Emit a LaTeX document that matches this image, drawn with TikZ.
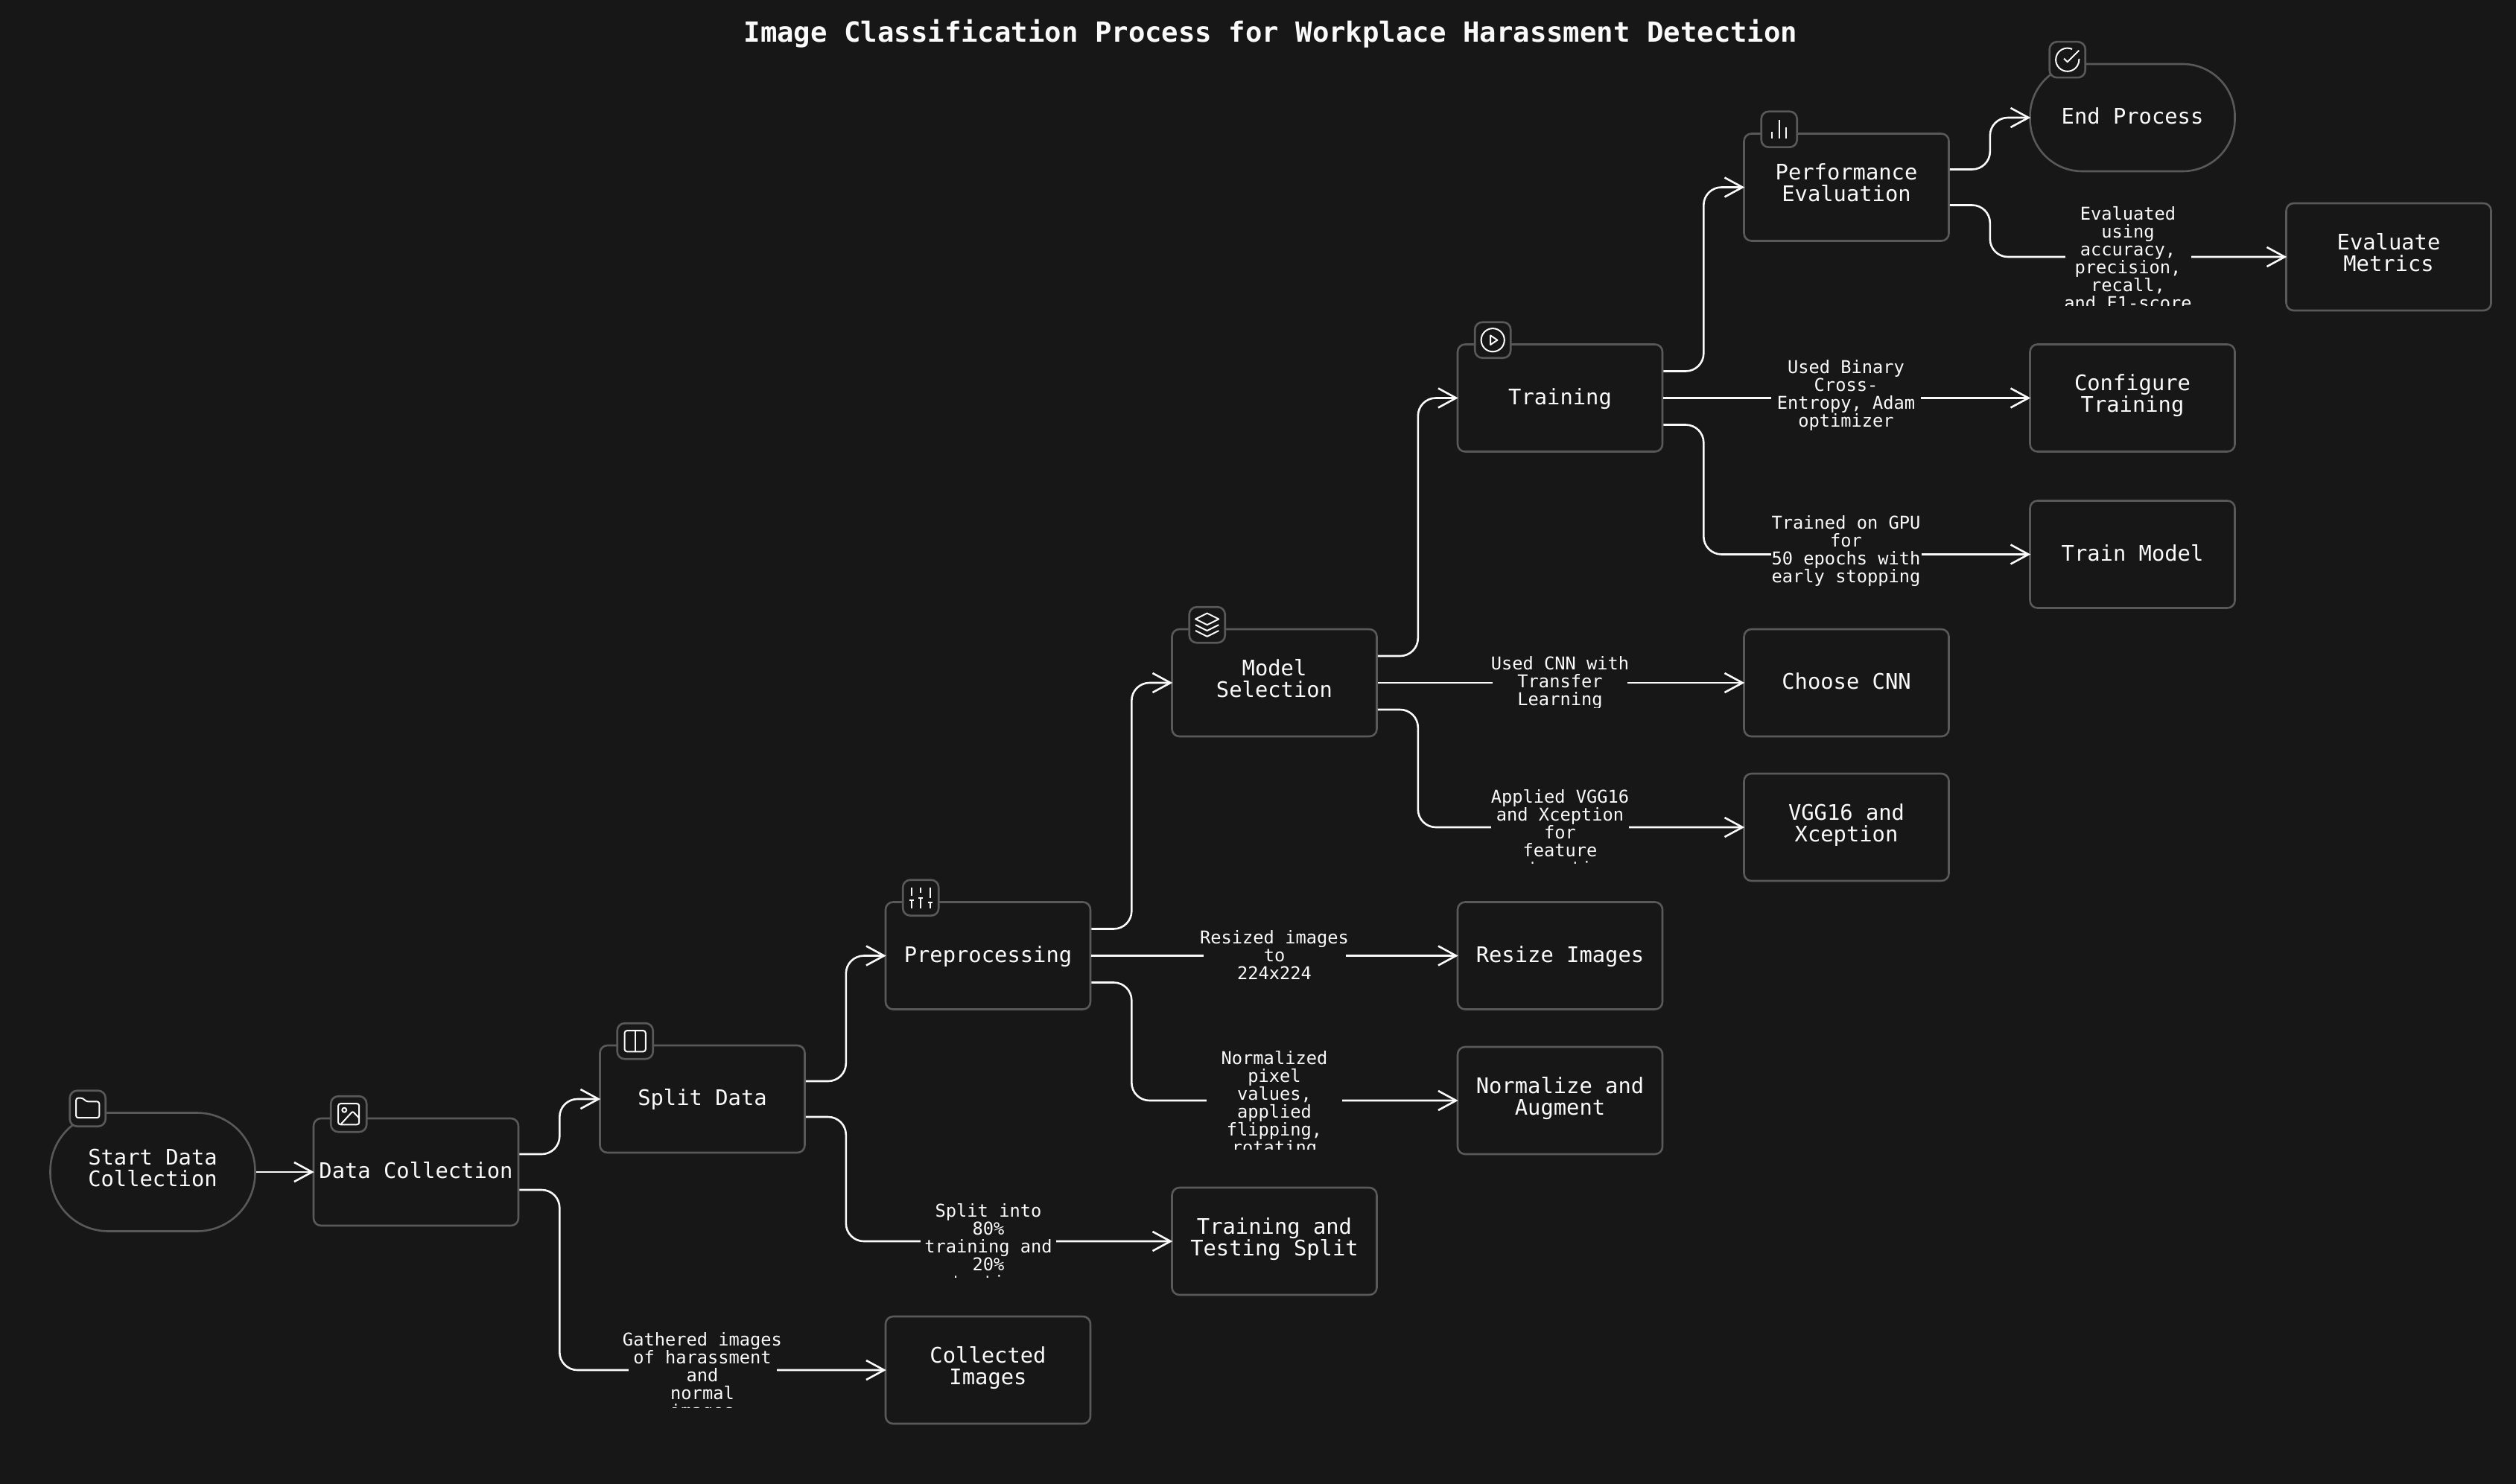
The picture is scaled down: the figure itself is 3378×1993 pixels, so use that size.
\documentclass[tikz,border=0pt]{standalone}
\usepackage{fontspec}
\setmonofont{DejaVu Sans Mono}
\usetikzlibrary{arrows.meta}
\definecolor{pageBg}{HTML}{171717}
\definecolor{boxLine}{HTML}{595959}
\definecolor{inkWhite}{HTML}{FAFAFA}
\newcommand\boxWidth{275}
\newcommand\boxHeight{144}
\newcommand\exitStub{54}
\tikzset{
  >={Straight Barb[length=24pt,width=26pt]},
  flowbox/.style={draw=boxLine, fill=pageBg, line width=2.6pt, rounded corners=10pt, inner sep=0pt,
    minimum width=\boxWidth pt, minimum height=\boxHeight pt, align=center, text=inkWhite,
    font=\ttfamily\fontsize{28.8}{28.8}\selectfont, text height=17pt, text depth=0pt},
  twolines/.style={flowbox, text height=38pt},
  pillbox/.style={rounded corners=70pt},
  badge/.style={draw=boxLine, fill=pageBg, line width=2.6pt, rounded corners=10pt, inner sep=0pt,
    minimum width=48pt, minimum height=48pt},
  link/.style={draw=inkWhite, line width=2.6pt, rounded corners=24pt, ->, shorten >=-2pt},
  edgelabel/.style={inner sep=0pt, anchor=north, align=center, text=inkWhite,
    font=\ttfamily\fontsize{23.7}{24}\selectfont, execute at begin node={\rule{0pt}{21pt}}},
  iconline/.style={draw=inkWhite, line width=2pt, x=1.56pt, y=-1.56pt, line join=round},
  pics/foldericon/.style={code={
    \draw[iconline, rounded corners=3pt] (-10,-9) -- (-4,-9) -- (-1.5,-6) -- (10,-6) -- (10,8) -- (-10,8) -- cycle;}},
  pics/imageicon/.style={code={
    \draw[iconline, rounded corners=3pt] (-9,-9) rectangle (9,9);
    \draw[iconline] (-3.8,-3.5) circle[radius=1.9*1.56pt];
    \draw[iconline, rounded corners=2pt] (-7,9) -- (3.4,-2.4) -- (9,3.5);}},
  pics/columnsicon/.style={code={
    \draw[iconline, rounded corners=3pt] (-9,-9) rectangle (9,9);
    \draw[iconline] (0,-9) -- (0,9);}},
  pics/slidersicon/.style={code={
    \foreach \sx/\ya/\yb/\yc in {-8/-2/2/9, 0/-4/0/9, 8/0/4/9}{
      \draw[iconline] (\sx,-9) -- (\sx,\ya) (\sx,\yb) -- (\sx,\yc) (\sx-2,\yb) -- (\sx+2,\yb);}}},
  pics/layersicon/.style={code={
    \draw[iconline] (0,-10) -- (-10,-5) -- (0,0) -- (10,-5) -- cycle;
    \draw[iconline] (-10,0) -- (0,5) -- (10,0);
    \draw[iconline] (-10,5) -- (0,10) -- (10,5);}},
  pics/playicon/.style={code={
    \draw[iconline] (0,0) circle[radius=10*1.56pt];
    \draw[iconline] (-2,-4) -- (4,0) -- (-2,4) -- cycle;}},
  pics/charticon/.style={code={
    \draw[iconline] (6,8) -- (6,-2) (0,8) -- (0,-8) (-6,8) -- (-6,2);}},
  pics/checkicon/.style={code={
    \draw[iconline] (10,-.92) -- (10,0) arc[start angle=0, end angle=-294, radius=10*1.56pt];
    \draw[iconline] (10,-8) -- (0,2) -- (-3,-1);}},
}

\begin{document}
\begin{tikzpicture}[x=1pt, y=-1pt]
  \useasboundingbox[fill=pageBg] (0,0) rectangle (3378,1993);

  \node (title) at (1706,45) [text=inkWhite, font=\ttfamily\bfseries\fontsize{37.3}{37.3}\selectfont]
    {Image Classification Process for Workplace Harassment Detection};

  % process boxes
  \foreach \Bname/\Bstyle/\Bx/\By/\Btext in {
      datacoll/flowbox/558.5/1574/{Data Collection}, splitdata/flowbox/943/1476/{Split Data},
      preproc/flowbox/1326.5/1283.5/{Preprocessing}, modelsel/twolines/1711/917/{Model\\Selection},
      training/flowbox/2094.5/534.5/{Training}, perfeval/twolines/2479/251.5/{Performance\\Evaluation},
      collected/twolines/1326.5/1840/{Collected\\Images}, ttsplit/twolines/1711/1667/{Training and\\Testing Split},
      resize/flowbox/2094.5/1283.5/{Resize Images}, normaug/twolines/2094.5/1478/{Normalize and\\Augment},
      choosecnn/flowbox/2479/917/{Choose CNN}, vggxcep/twolines/2479/1111/{VGG16 and\\Xception},
      config/twolines/2863/534.5/{Configure\\Training}, trainmodel/flowbox/2863/744.5/{Train Model},
      evalmetrics/twolines/3207/345/{Evaluate\\Metrics}}{
    \node (\Bname) at (\Bx,\By) [\Bstyle] {\Btext};
  }
  \node (startdata) at (205,1574) [twolines, pillbox, rounded corners=78pt, minimum height=159pt] {Start Data\\Collection};
  \node (endproc) at (2863,158) [flowbox, pillbox] {End Process};

  % connectors that leave straight
  \foreach \Lsrc/\Ldst in {startdata/datacoll, preproc/resize, modelsel/choosecnn, training/config}{
    \draw[link] (\Lsrc.east) -- (\Ldst.west);
  }

  % connectors that bend once up and once down
  \foreach \Lsrc/\Ldst/\Lshift in {
      datacoll/splitdata/24, datacoll/collected/-24,
      splitdata/preproc/24, splitdata/ttsplit/-24,
      preproc/modelsel/36, preproc/normaug/-36,
      modelsel/training/36, modelsel/vggxcep/-36,
      training/perfeval/36, training/trainmodel/-36,
      perfeval/endproc/24, perfeval/evalmetrics/-24}{
    \draw[link] ([yshift=\Lshift pt]\Lsrc.east) -- ++(\exitStub,0) |- (\Ldst.west);
  }

  % edge labels, cut off at the bottom as they are
  \foreach \Lx/\Ly/\Lw/\Ltop/\Lbot/\Ltext in {
      943/1840/199/1789/1890.5/{Gathered images\\of harassment\\and\\normal\\images},
      1327/1666/182/1616/1715/{Split into\\80\%\\training and\\20\%\\testing},
      1711/1283/191/1249/1322/{Resized images\\to\\224x224},
      1711/1478/182/1411/1543/{Normalized\\pixel\\values,\\applied\\flipping,\\rotating},
      2094.5/917/181/881/950/{Used CNN with\\Transfer\\Learning},
      2094.5/1111/185/1060/1159/{Applied VGG16\\and Xception\\for\\feature\\extraction},
      2478.5/534/201/483/579/{Used Binary\\Cross-\\Entropy, Adam\\optimizer},
      2478.5/744/202/692/790/{Trained on GPU\\for\\50 epochs with\\early stopping},
      2857/345/169/277/410/{Evaluated\\using\\accuracy,\\precision,\\recall,\\and F1-score}}{
    \fill[pageBg] (\Lx-\Lw/2,\Ly-14) rectangle (\Lx+\Lw/2,\Ly+14);
    \begin{scope}
      \clip (\Lx-130,\Ltop) rectangle (\Lx+130,\Lbot);
      \node at (\Lx,\Ltop) [edgelabel] {\Ltext};
    \end{scope}
  }

  % icon badges
  \foreach \Bnode/\Bicon/\Bdx in {
      startdata/foldericon/51.5, datacoll/imageicon/48.5, splitdata/columnsicon/48.5,
      preproc/slidersicon/48.5, modelsel/layersicon/48.5, training/playicon/48.5,
      perfeval/charticon/48.5, endproc/checkicon/51.5}{
    \node (\Bnode badge) at ([xshift=\Bdx pt,yshift=4.5pt]\Bnode.north west) [badge] {};
    \pic at (\Bnode badge.center) {\Bicon};
  }
\end{tikzpicture}
\end{document}
